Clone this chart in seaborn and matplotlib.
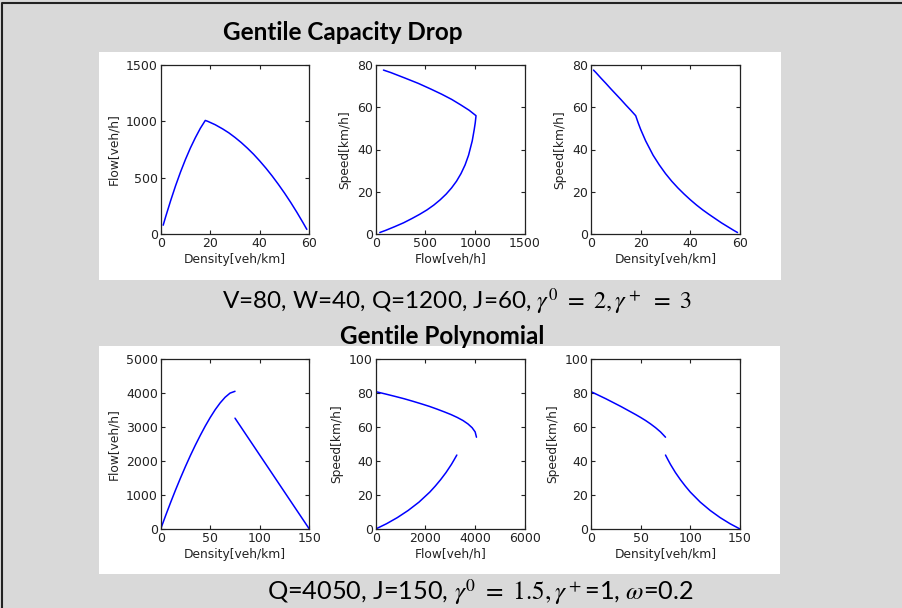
import matplotlib
matplotlib.use("Agg")
import matplotlib.pyplot as plt
import seaborn as sns
import pandas as pd
from matplotlib.patches import Rectangle

sns.set_style("ticks")
plt.rcParams["font.family"] = ["DejaVu Sans"]
plt.rcParams["mathtext.fontset"] = "stix"

# ---------------- data: Gentile Capacity Drop ----------------
cd_density = [1, 2, 4, 6, 8, 10, 12, 14, 16, 18,
              19, 20, 22, 25, 27.5, 30, 32.5, 35, 37.5, 40,
              42.5, 45, 47.5, 50, 52.5, 55, 57.5, 59]
cd_flow = [78, 153, 295, 428, 550, 662, 764, 855, 938, 1008,
           1000, 990, 970, 933, 898, 857, 812, 762, 708, 648,
           584, 515, 441, 363, 280, 192, 99, 41]
cd_speed = [77.6, 76.4, 73.8, 71.3, 68.7, 66.2, 63.7, 61.1, 58.6, 56.0,
            52.6, 49.5, 44.1, 37.3, 32.7, 28.6, 25.0, 21.8, 18.9, 16.2,
            13.7, 11.4, 9.3, 7.3, 5.3, 3.5, 1.7, 0.7]

# ---------------- data: Gentile Polynomial ----------------
gp_free_density = [0, 5, 10, 15, 20, 25, 30, 35, 40, 45, 50, 55, 60, 65, 70, 75]
gp_free_speed = [80.8, 79.4, 78.0, 76.6, 75.1, 73.6, 72.1, 70.5, 68.9, 67.3,
                 65.6, 63.8, 61.8, 59.6, 57.1, 54.0]
gp_free_flow = [0, 397, 780, 1149, 1502, 1840, 2163, 2468, 2756, 3029,
                3280, 3509, 3708, 3874, 3997, 4050]
gp_cong_density = [75, 77.5, 80, 85, 90, 95, 100, 110, 120, 130, 140, 150]
gp_cong_flow = [3260, 3151, 3043, 2825, 2608, 2391, 2173, 1739, 1304, 869, 435, 0]
gp_cong_speed = [43.5, 40.7, 38.0, 33.2, 29.0, 25.2, 21.7, 15.8, 10.9, 6.7, 3.1, 0.0]

titles = ["Gentile Capacity Drop", "Gentile Polynomial"]
captions = [r"V=80, W=40, Q=1200, J=60, $\gamma^0\ =\ 2,\gamma^+\ =\ 3$",
            r"Q=4050, J=150, $\gamma^0\ =\ 1.5,\gamma^+$=1, $\omega$=0.2"]

W, H = 903, 608
fig = plt.figure(figsize=(W / 100, H / 100), dpi=100)
fig.patch.set_facecolor("#d9d9d9")


def px_rect(x0, y0, x1, y1):
    return [x0 / W, 1 - y1 / H, (x1 - x0) / W, (y1 - y0) / H]


# background axes holding the white panels and frame
bg = fig.add_axes([0, 0, 1, 1], zorder=-5)
bg.set_xlim(0, W)
bg.set_ylim(H, 0)
bg.axis("off")
for (x0, y0, x1, y1) in [(99, 52, 781, 280), (99, 346, 780, 574)]:
    bg.add_patch(Rectangle((x0, y0), x1 - x0, y1 - y0,
                           facecolor="white", edgecolor="none"))
bg.plot([2.5, 2.5, W], [H, 2.5, 2.5], color="#222222", lw=1.5)

tick_kw = dict(direction="in", top=True, right=True, length=3, width=0.8,
               labelsize=9, colors="#222222", pad=2)


def style(ax, xlim, ylim, xticks, yticks, xlabel, ylabel):
    ax.set_xlim(*xlim)
    ax.set_ylim(*ylim)
    ax.set_xticks(xticks)
    ax.set_yticks(yticks)
    ax.set_xlabel(xlabel, fontsize=8.8, color="#222222", labelpad=2)
    ax.set_ylabel(ylabel, fontsize=8.8, color="#222222", labelpad=4)
    ax.tick_params(axis="both", which="major", **tick_kw)
    for s in ax.spines.values():
        s.set_visible(True)
        s.set_color("#222222")
        s.set_linewidth(0.9)
    ax.set_facecolor("white")


def line(ax, x, y):
    df = pd.DataFrame({"x": x, "y": y})
    sns.lineplot(data=df, x="x", y="y", ax=ax, color="blue", lw=1.1,
                 sort=False, estimator=None)


cols = [(160.7, 309.3), (375.7, 525.0), (591.0, 740.0)]
rows = [(65, 234), (359, 529)]

# top row
axs = [fig.add_axes(px_rect(c[0], rows[0][0], c[1], rows[0][1]), zorder=2) for c in cols]
line(axs[0], cd_density, cd_flow)
style(axs[0], (0, 60), (0, 1500), [0, 20, 40, 60], [0, 500, 1000, 1500],
      "Density[veh/km]", "Flow[veh/h]")
line(axs[1], cd_flow, cd_speed)
style(axs[1], (0, 1500), (0, 80), [0, 500, 1000, 1500], [0, 20, 40, 60, 80],
      "Flow[veh/h]", "Speed[km/h]")
line(axs[2], cd_density, cd_speed)
style(axs[2], (0, 60), (0, 80), [0, 20, 40, 60], [0, 20, 40, 60, 80],
      "Density[veh/km]", "Speed[km/h]")

# bottom row
bxs = [fig.add_axes(px_rect(c[0], rows[1][0], c[1], rows[1][1]), zorder=2) for c in cols]
line(bxs[0], gp_free_density, gp_free_flow)
line(bxs[0], gp_cong_density, gp_cong_flow)
style(bxs[0], (0, 150), (0, 5000), [0, 50, 100, 150], [0, 1000, 2000, 3000, 4000, 5000],
      "Density[veh/km]", "Flow[veh/h]")
line(bxs[1], gp_free_flow, gp_free_speed)
line(bxs[1], gp_cong_flow, gp_cong_speed)
style(bxs[1], (0, 6000), (0, 100), [0, 2000, 4000, 6000], [0, 20, 40, 60, 80, 100],
      "Flow[veh/h]", "Speed[km/h]")
line(bxs[2], gp_free_density, gp_free_speed)
line(bxs[2], gp_cong_density, gp_cong_speed)
style(bxs[2], (0, 150), (0, 100), [0, 50, 100, 150], [0, 20, 40, 60, 80, 100],
      "Density[veh/km]", "Speed[km/h]")

# titles and captions
fig.text(343 / W, 1 - 33 / H, titles[0], family="Lato", weight="bold",
         fontsize=17.5, ha="center", va="center", color="black")
fig.text(442 / W, 1 - 337 / H, titles[1], family="Lato", weight="bold",
         fontsize=17.5, ha="center", va="center", color="black")
fig.text(457 / W, 1 - 302 / H, captions[0], family="Lato",
         fontsize=17.5, ha="center", va="center", color="black")
fig.text(480 / W, 1 - 592 / H, captions[1], family="Lato",
         fontsize=18.2, ha="center", va="center", color="black")

fig.savefig("out.png", dpi=100, facecolor=fig.get_facecolor())
